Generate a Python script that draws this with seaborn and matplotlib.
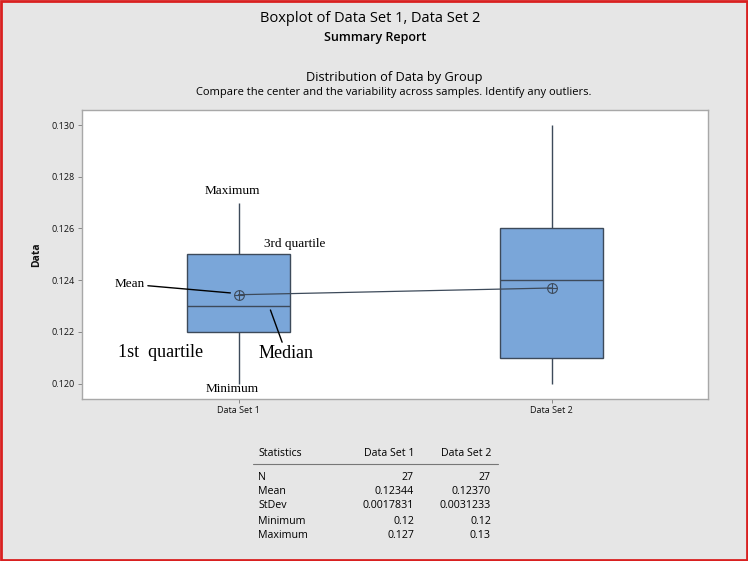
import matplotlib
matplotlib.use("Agg")
import matplotlib.pyplot as plt
import seaborn as sns
from matplotlib.patches import Rectangle
from matplotlib.lines import Line2D

# ---- data ----
groups = ["Data Set 1", "Data Set 2"]
ds1_values = [0.120, 0.122, 0.123, 0.125, 0.127]   # min, Q1, median, Q3, max
ds2_values = [0.120, 0.121, 0.124, 0.126, 0.130]
means = [0.12344, 0.12370]
y_ticks = [0.120, 0.122, 0.124, 0.126, 0.128, 0.130]

stat_names = ["N", "Mean", "StDev", "Minimum", "Maximum"]
ds1_stats = ["27", "0.12344", "0.0017831", "0.12", "0.127"]
ds2_stats = ["27", "0.12370", "0.0031233", "0.12", "0.13"]

# ---- style ----
sns.set_theme(style="white")
plt.rcParams["font.family"] = ["Open Sans", "DejaVu Sans"]
TXT = "#111111"
plt.rcParams.update({"text.color": TXT, "axes.labelcolor": TXT,
                     "xtick.color": TXT, "ytick.color": TXT})
BG = "#e6e6e6"
BOX = "#7aa6d9"
EDGE = "#3d4a5a"
SERIF = ["Liberation Serif", "DejaVu Serif"]

fig = plt.figure(figsize=(7.48, 5.61), dpi=100, facecolor=BG)
ax = fig.add_axes([82 / 748, 1 - 399 / 561, 626 / 748, 289 / 561])
ax.set_facecolor("white")

x_all = [groups[0]] * len(ds1_values) + [groups[1]] * len(ds2_values)
y_all = ds1_values + ds2_values
sns.boxplot(x=x_all, y=y_all, ax=ax, order=groups, whis=(0, 100), width=0.33,
            color=BOX, saturation=1, linecolor=EDGE, linewidth=1.0,
            showcaps=False, showfliers=False)

sns.pointplot(x=groups, y=means, ax=ax, order=groups, color=EDGE, markers="o",
              linestyles="-", errorbar=None, markersize=7, linewidth=0.9,
              markerfacecolor="none", markeredgewidth=0.8)
sns.pointplot(x=groups, y=means, ax=ax, order=groups, color=EDGE, markers="+",
              linestyles="none", errorbar=None, markersize=7,
              markeredgewidth=0.8)

ax.set_xlim(-0.5, 1.5)
ax.set_ylim(0.11941, 0.13058)
ax.set_yticks(y_ticks)
ax.set_yticklabels([f"{v:.3f}" for v in y_ticks])
ax.set_xticks([0, 1])
ax.set_xticklabels(groups)
ax.tick_params(axis="both", labelsize=6.5, length=3, width=0.7, color="#888888",
               labelcolor=TXT, direction="out", left=True, bottom=True, pad=2)
ax.set_xlabel("")
ax.set_ylabel("Data", fontsize=7.5, fontweight="bold", labelpad=7)
for s in ax.spines.values():
    s.set_color("#a8a8a8")
    s.set_linewidth(1.0)

# ---- annotations ----
ax.text(-0.02, 0.12746, "Maximum", family=SERIF, fontsize=9.5, ha="center", va="center", color="black")
ax.text(0.18, 0.12540, "3rd quartile", family=SERIF, fontsize=9.5, ha="center", va="center", color="black")
ax.text(-0.02, 0.11980, "Minimum", family=SERIF, fontsize=9.5, ha="center", va="center", color="black")
ax.annotate("Mean", xy=(-0.026, 0.12351), xytext=(-0.30, 0.12385), family=SERIF,
            fontsize=9.5, ha="right", va="center", color="black",
            arrowprops=dict(arrowstyle="-", color="black", lw=1.0, shrinkA=0, shrinkB=0))
ax.text(-0.25, 0.12119, "1st  quartile", family=SERIF, fontsize=13, ha="center", va="center", color="black")
ax.annotate("Median", xy=(0.102, 0.12285), xytext=(0.153, 0.12115), family=SERIF,
            fontsize=13, ha="center", va="center", color="black",
            arrowprops=dict(arrowstyle="-", color="black", lw=1.0, shrinkA=0, shrinkB=0))

# ---- titles ----
fig.text(370 / 748, 1 - 19 / 561, "Boxplot of Data Set 1, Data Set 2", fontsize=10.5,
         fontweight="medium", ha="center", va="center", color="black")
fig.text(375 / 748, 1 - 38 / 561, "Summary Report", fontsize=9, fontweight="semibold",
         ha="center", va="center", color="black")
fig.text(394 / 748, 1 - 77 / 561, "Distribution of Data by Group", fontsize=9.2,
         fontweight="medium", ha="center", va="center", color="black")
fig.text(394 / 748, 1 - 93 / 561,
         "Compare the center and the variability across samples. Identify any outliers.",
         fontsize=8, ha="center", va="center", color="black")

# ---- statistics table ----
tfs = 7.7
hy = 1 - 454 / 561
fig.text(258 / 748, hy, "Statistics", fontsize=tfs, ha="left", va="center", color="black")
fig.text(414 / 748, hy, groups[0], fontsize=tfs, ha="right", va="center", color="black")
fig.text(491 / 748, hy, groups[1], fontsize=tfs, ha="right", va="center", color="black")
fig.add_artist(Line2D([253 / 748, 498 / 748], [1 - 464 / 561, 1 - 464 / 561],
                      color="#777777", lw=0.8, transform=fig.transFigure))
row_y = [477, 492, 506, 521, 535]
for name, a, b, yy in zip(stat_names, ds1_stats, ds2_stats, row_y):
    y = 1 - yy / 561
    fig.text(258 / 748, y, name, fontsize=tfs, ha="left", va="center", color="black")
    fig.text(414 / 748, y, a, fontsize=tfs, ha="right", va="center", color="black")
    fig.text(491 / 748, y, b, fontsize=tfs, ha="right", va="center", color="black")

# red frame
fig.add_artist(Rectangle((0.001, 0.0015), 0.998, 0.997, transform=fig.transFigure,
                         fill=False, edgecolor="#d92020", lw=2))

fig.savefig("out.png", dpi=100, facecolor=BG)
